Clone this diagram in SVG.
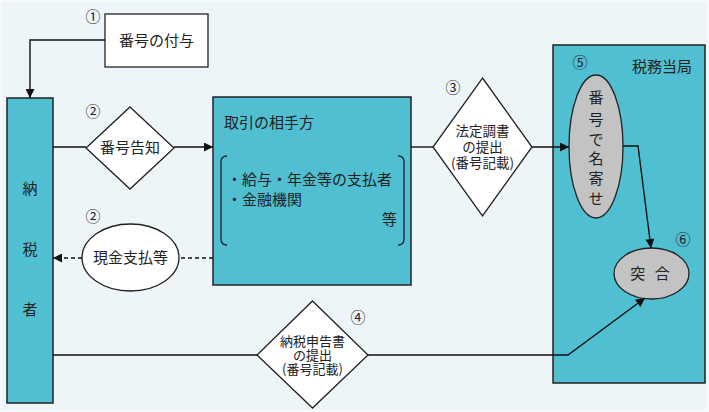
<svg xmlns="http://www.w3.org/2000/svg" width="709" height="412" viewBox="0 0 709 412">
<defs>
<style>
text{font-family:"Noto Sans CJK JP","Noto Sans",sans-serif;fill:#222;}
.t15{font-size:15px;}
.t14{font-size:13.5px;}
.t13{font-size:13px;}
.num{font-size:15px;}
.box{fill:#4FBFD1;stroke:#222;stroke-width:1.5;}
.wht{fill:#FFFFFF;stroke:#222;stroke-width:1.3;}
.dia{fill:#FFFFFF;stroke:#222;stroke-width:1.3;}
.gry{fill:#C3C3C3;stroke:#222;stroke-width:1.3;}
.ln{fill:none;stroke:#111;stroke-width:1.4;}
.dash{fill:none;stroke:#111;stroke-width:1.4;stroke-dasharray:4 3;}
.brk{fill:none;stroke:#222;stroke-width:1.3;}
</style>
<marker id="arr" viewBox="0 0 10 10" refX="10" refY="5" markerWidth="10" markerHeight="9" markerUnits="userSpaceOnUse" orient="auto">
<path d="M0,0 L10,5 L0,10 Z" fill="#111"/>
</marker>
</defs>
<rect x="0" y="0" width="709" height="412" fill="#EEF5F8"/>
<rect x="1" y="1" width="707" height="410" fill="none" stroke="#F6FAFC" stroke-width="2"/>

<g id="n1">
<rect class="wht" x="105" y="14" width="103" height="53"/>
<text class="t15" x="156.5" y="46" text-anchor="middle">番号の付与</text>
<text class="num" x="93" y="22" text-anchor="middle">①</text>
</g>

<g id="taxpayer">
<rect class="box" x="7" y="98" width="46" height="305"/>
<text class="t15" x="30" y="194" text-anchor="middle">納</text>
<text class="t15" x="30" y="255" text-anchor="middle">税</text>
<text class="t15" x="30" y="315" text-anchor="middle">者</text>
</g>

<g id="n2a">
<polygon class="dia" points="130,107 174,148 130,189 86,148"/>
<text class="t15" x="130" y="153" text-anchor="middle">番号告知</text>
<text class="num" x="93" y="117" text-anchor="middle">②</text>
</g>

<g id="n2b">
<ellipse class="wht" cx="130.5" cy="257.5" rx="48.5" ry="33.5"/>
<text class="t15" x="130.5" y="263" text-anchor="middle">現金支払等</text>
<text class="num" x="93" y="222" text-anchor="middle">②</text>
</g>

<g id="partner">
<rect class="box" x="213" y="97" width="198" height="188"/>
<text class="t15" x="224" y="128">取引の相手方</text>
<path class="brk" d="M227,156 Q221,156 221,162 V239 Q221,245 227,245"/>
<path class="brk" d="M398,156 Q404,156 404,162 V239 Q404,245 398,245"/>
<text class="t15" x="227" y="185">・給与・年金等の支払者</text>
<text class="t15" x="227" y="205">・金融機関</text>
<text class="t15" x="397" y="225" text-anchor="end">等</text>
</g>

<g id="n3">
<polygon class="dia" points="482.5,78 532,147 482.5,216 433,147"/>
<text class="t14" text-anchor="middle"><tspan x="482.5" y="136">法定調書</tspan><tspan x="482.5" y="152">の提出</tspan><tspan x="482.5" y="168">(番号記載)</tspan></text>
<text class="num" x="453" y="93" text-anchor="middle">③</text>
</g>

<g id="authority">
<rect class="box" x="553" y="45" width="152" height="338"/>
<text class="t15" x="662" y="72" text-anchor="middle">税務当局</text>
</g>

<g id="n5">
<ellipse class="gry" cx="596" cy="146.5" rx="27" ry="71.5"/>
<text class="t15" x="596" y="103" text-anchor="middle">番</text>
<text class="t15" x="596" y="125" text-anchor="middle">号</text>
<text class="t15" x="596" y="145" text-anchor="middle">で</text>
<text class="t15" x="596" y="164" text-anchor="middle">名</text>
<text class="t15" x="596" y="184" text-anchor="middle">寄</text>
<text class="t15" x="596" y="204" text-anchor="middle">せ</text>
<text class="num" x="580" y="68" text-anchor="middle">⑤</text>
</g>

<g id="n6">
<ellipse class="gry" cx="651.5" cy="273.5" rx="37.5" ry="25.5"/>
<text class="t15" x="651.5" y="279" text-anchor="middle" letter-spacing="3">突 合</text>
<text class="num" x="683" y="245" text-anchor="middle">⑥</text>
</g>

<g id="n4">
<polygon class="dia" points="312.5,301 368,355 312.5,408 257,355"/>
<text class="t13" text-anchor="middle"><tspan x="312.5" y="346">納税申告書</tspan><tspan x="312.5" y="360">の提出</tspan><tspan x="312.5" y="374">(番号記載)</tspan></text>
<text class="num" x="358" y="323" text-anchor="middle">④</text>
</g>

<g id="connectors">
<path class="ln" d="M105,40 H30 V98" marker-end="url(#arr)"/>
<path class="ln" d="M53,147 H86"/>
<path class="ln" d="M174,147 H213" marker-end="url(#arr)"/>
<path class="dash" d="M213,258 H179"/>
<path class="dash" d="M82,258 H53" marker-end="url(#arr)"/>
<path class="ln" d="M411,147 H433"/>
<path class="ln" d="M532,147 H569" marker-end="url(#arr)"/>
<path class="ln" d="M623,146 H638 L651,248" marker-end="url(#arr)"/>
<path class="ln" d="M53,355 H257"/>
<path class="ln" d="M368,355 H568 L645,298" marker-end="url(#arr)"/>
</g>
</svg>
